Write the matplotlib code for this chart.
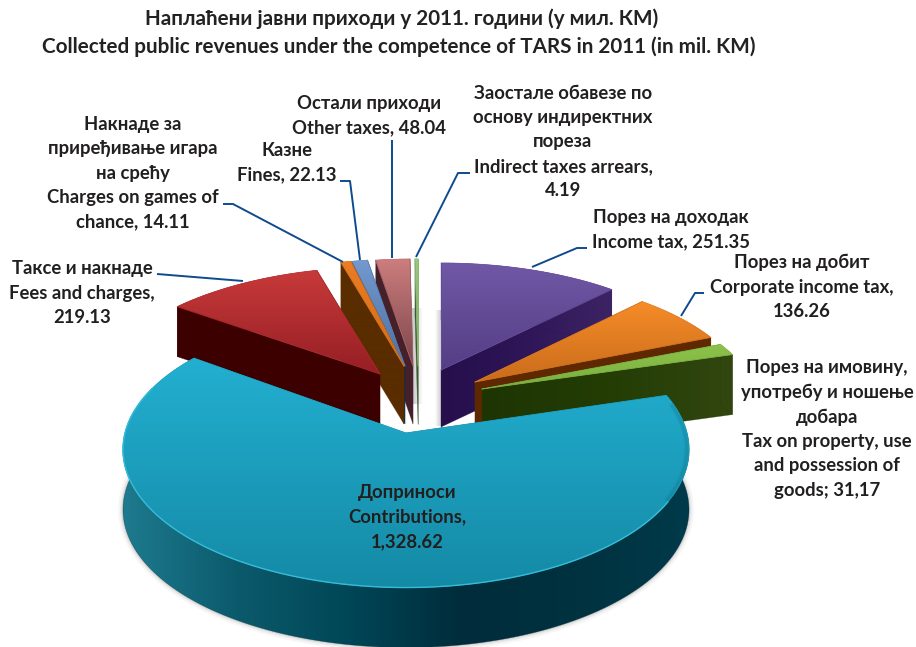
import numpy as np
import matplotlib
matplotlib.use("Agg")
import matplotlib.pyplot as plt
from matplotlib.patches import Polygon
from matplotlib.colors import LinearSegmentedColormap

plt.rcParams['font.family'] = ['Lato', 'DejaVu Sans']

title_lines = ["Наплаћени јавни приходи у 2011. години (у мил. КМ)",
               "Collected public revenues under the competence of TARS in 2011 (in mil. KM)"]

# clockwise from 12 o'clock
names = ["income", "corporate", "property", "contributions", "fees", "charges", "fines", "other", "arrears"]
values = [251.35, 136.26, 31.17, 1328.62, 219.13, 14.11, 22.13, 48.04, 4.19]
labels = [
    "Порез на доходак\nIncome tax, 251.35",
    "Порез на добит\nCorporate income tax,\n136.26",
    "Порез на имовину,\nупотребу и ношење\nдобара\nTax on property, use\nand possession of\ngoods; 31,17",
    "Доприноси\nContributions,\n1,328.62",
    "Таксе и накнаде\nFees and charges,\n219.13",
    "Накнаде за\nприређивање игара\nна срећу\nCharges on games of\nchance, 14.11",
    "Казне\nFines, 22.13",
    "Остали приходи\nOther taxes, 48.04",
    "Заостале обавезе по\nоснову индиректних\nпореза\nIndirect taxes arrears,\n4.19",
]

# layout: where each exploded slice has its tip, its wall height, label centre
apex = {"income": (441, 370), "corporate": (475, 382), "property": (482, 389),
        "contributions": (406, 433), "fees": (380, 374), "charges": (404, 366),
        "fines": (405, 366), "other": (413, 366), "arrears": (418, 366)}
depth = {"income": 57, "corporate": 57, "property": 60, "contributions": 60, "fees": 50,
         "charges": 58, "fines": 58, "other": 58, "arrears": 58}
label_pos = {"income": (671, 230), "corporate": (802, 287), "property": (827, 429),
             "contributions": (407, 517), "fees": (82, 293), "charges": (133, 173),
             "fines": (287, 163), "other": (369, 116), "arrears": (563, 142)}
leaders = [
    [(223, 204), (233, 204), (343, 262)],
    [(340, 181), (350, 181), (360, 260)],
    [(392, 140), (392, 258)],
    [(470, 173), (458, 173), (416, 257)],
    [(157, 274), (243, 281)],
    [(587, 248), (577, 248), (532, 267)],
    [(704, 293), (695, 293), (681, 316)],
]

# colours: top gradient start, end; wall colours left to right
top_col = {"income": ("#7058a6", "#553e85"), "corporate": ("#f68c28", "#c96c1c"),
           "property": ("#8cc34b", "#7aae3e"), "contributions": ("#23afd0", "#148aa6"),
           "fees": ("#c83a3a", "#951e24"), "charges": ("#eb7d23", "#d06c1a"),
           "fines": ("#7399cf", "#4c6f9f"), "other": ("#cd7d7d", "#7a464b"),
           "arrears": ("#9bc87d", "#7fa865")}
wall_col = {"income": ["#260f4b", "#2e1658", "#3c2464"], "corporate": ["#5f2800", "#5f2800"],
            "property": ["#1e3503", "#233d05", "#324610"],
            "contributions": ["#1e7a8e", "#0b5a6c", "#004656", "#002c3b", "#00323f", "#003a4a"],
            "fees": ["#3c0000", "#3c0000"], "charges": ["#5a2d00", "#5a2d00"],
            "fines": ["#0f2d50", "#0f2d50"], "other": ["#46202a", "#46202a"],
            "arrears": ["#3c5a32", "#3c5a32"]}
draw_order = ["income", "arrears", "other", "fines", "charges", "fees", "corporate", "property", "contributions"]

# plane -> screen
F, G, K = 278, 126.5, 0.183
view = {"contributions": (281, 136, 0.12), "corporate": (272, G, K), "property": (275, G, K)}


def project(name, ang):
    f, g, k = view.get(name, (F, G, K))
    x, y = np.sin(ang), np.cos(ang)
    w = 1 + k * y
    return apex[name][0] + f * x / w, apex[name][1] - g * y / w


zcount = [2]


def grad_fill(ax, pts, colors, horizontal=False, box=None):
    pts = np.asarray(pts)
    if box is None:
        box = np.vstack([pts.min(axis=0), pts.max(axis=0)])
    (x0, y0), (x1, y1) = box
    cmap = LinearSegmentedColormap.from_list("g", colors)
    ramp = np.linspace(0, 1, 256)
    arr = ramp[None, :] if horizontal else ramp[:, None]
    zcount[0] += 1
    im = ax.imshow(arr, cmap=cmap, extent=(x0, x1 + 1e-3, y1 + 1e-3, y0), aspect='auto', zorder=zcount[0],
                   interpolation='bilinear', vmin=0, vmax=1)
    patch = Polygon(pts, closed=True, fc='none', ec='none', transform=ax.transData)
    ax.add_patch(patch)
    im.set_clip_path(patch)
    # soften the clipped edge
    zcount[0] += 1
    if not horizontal:
        for a, b in zip(pts, np.roll(pts, -1, axis=0)):
            frac = np.clip(((a[1] + b[1]) / 2 - y0) / max(y1 - y0, 1), 0, 1)
            ax.plot([a[0], b[0]], [a[1], b[1]], color=cmap(frac), lw=0.6, zorder=zcount[0],
                    solid_capstyle='round')
    else:
        ax.add_patch(Polygon(pts, closed=True, fc='none', ec=colors[len(colors) // 2], lw=0.4, alpha=0.5,
                             zorder=zcount[0]))


fig = plt.figure(figsize=(9.16, 6.47), dpi=100)
ax = fig.add_axes([0, 0, 1, 1])
ax.set_xlim(0, 916)
ax.set_ylim(647, 0)
ax.set_autoscale_on(False)
ax.axis('off')

# soft grey shadows behind the back slices
for x0, x1, y0, y1 in [(412, 423, 308, 404), (435, 442, 310, 426)]:
    shade = np.linspace(0.35, 0.0, 64) if x0 == 412 else np.linspace(0.0, 0.35, 64)
    rgba = np.zeros((1, 64, 4))
    rgba[..., :3] = 0.35
    rgba[..., 3] = shade
    ax.imshow(rgba, extent=(x0, x1, y1, y0), aspect='auto', zorder=1)

total = sum(values)
edges = np.cumsum([0] + values) / total * 2 * np.pi
spans = {n: (edges[i], edges[i + 1]) for i, n in enumerate(names)}

for name in draw_order:
    a0, a1 = spans[name]
    d = depth[name]
    ang = np.linspace(a0, a1, max(8, int((a1 - a0) * 60)))
    arc = np.array([project(name, a) for a in ang])
    tip = np.array(apex[name], float)
    low = np.array([0, d])

    if name == "contributions":
        # soft shadow round the foot of the wall
        for lw, al in [(7, 0.05), (4, 0.08), (2, 0.12)]:
            ax.plot((arc + low)[:, 0], (arc + low)[:, 1], color='#555555', lw=lw, alpha=al, zorder=2,
                    solid_capstyle='round')

    # walls share one gradient box so faces of a slice join up
    everything = np.vstack([arc, [tip], arc + low, [tip + low]])
    box = np.vstack([everything.min(axis=0), everything.max(axis=0)])
    for end in (arc[0], arc[-1]):
        grad_fill(ax, [tip, end, end + low, tip + low], wall_col[name], horizontal=True, box=box)
    grad_fill(ax, np.vstack([arc, (arc + low)[::-1]]), wall_col[name], horizontal=True, box=box)
    # top
    grad_fill(ax, np.vstack([[tip], arc]), top_col[name])

    if name == "contributions":
        # bevel: darker rim on the right, bright line along the front
        inner = tip + (arc - tip) * 0.992
        rim = (ang > np.radians(78)) & (ang < np.radians(118))
        for lw, al in [(4, 0.10), (2, 0.18)]:
            ax.plot(inner[rim, 0], inner[rim, 1], color='#0c6a80', lw=lw, alpha=al, zorder=zcount[0] + 1)
        mask = (ang > np.radians(118)) & (ang < np.radians(290))
        ax.plot(arc[mask, 0], arc[mask, 1], color='#35bcd8', lw=1.0, zorder=zcount[0] + 1)

for pts in leaders:
    xs, ys = zip(*pts)
    ax.plot(xs, ys, color='#0f4b8c', lw=1.4, zorder=zcount[0] + 2, solid_capstyle='butt')

for txt, x, y in zip(title_lines, (402, 398.5), (19, 47)):
    ax.text(x, y, txt, ha='center', va='center', fontsize=14.85, fontweight='bold', color='#222222',
            zorder=zcount[0] + 3)
for name, txt in zip(names, labels):
    x, y = label_pos[name]
    ax.text(x, y, txt, ha='center', va='center', fontsize=13.3, fontweight='bold', color='#221f1f',
            linespacing=1.52, zorder=zcount[0] + 3)

fig.savefig("out.png", dpi=100)
